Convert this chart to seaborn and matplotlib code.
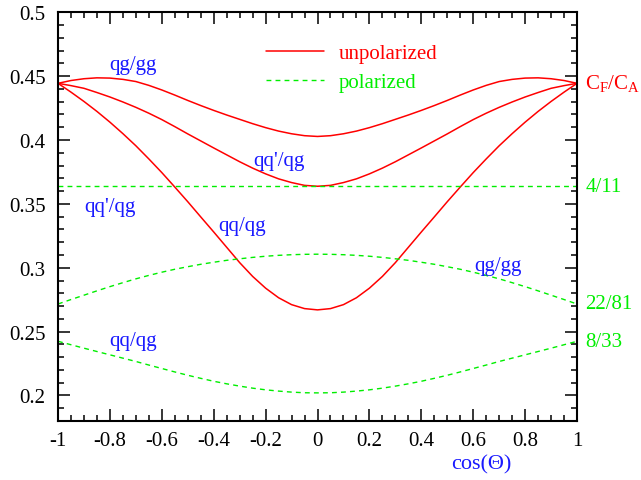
import matplotlib
matplotlib.use("Agg")
import matplotlib.pyplot as plt
import matplotlib.transforms as mtransforms
from matplotlib.lines import Line2D
from matplotlib.ticker import MultipleLocator
import seaborn as sns
import pandas as pd

# cos(Theta) grid
cos_theta = [-1.00, -0.95, -0.90, -0.85, -0.80, -0.75, -0.70, -0.65, -0.60, -0.55, -0.50,
             -0.45, -0.40, -0.35, -0.30, -0.25, -0.20, -0.15, -0.10, -0.05, 0.00,
             0.05, 0.10, 0.15, 0.20, 0.25, 0.30, 0.35, 0.40, 0.45, 0.50,
             0.55, 0.60, 0.65, 0.70, 0.75, 0.80, 0.85, 0.90, 0.95, 1.00]

# unpolarized ratios
unpol_qg_gg = [0.4444, 0.4466, 0.4480, 0.4487, 0.4485, 0.4475, 0.4458, 0.4428, 0.4392, 0.4352, 0.4310,
               0.4270, 0.4232, 0.4196, 0.4162, 0.4128, 0.4097, 0.4070, 0.4049, 0.4034, 0.4028,
               0.4034, 0.4049, 0.4070, 0.4097, 0.4128, 0.4162, 0.4196, 0.4232, 0.4270, 0.4310,
               0.4352, 0.4392, 0.4428, 0.4458, 0.4475, 0.4485, 0.4487, 0.4480, 0.4466, 0.4444]
unpol_qqp_qg = [0.4444, 0.4426, 0.4405, 0.4372, 0.4337, 0.4298, 0.4256, 0.4210, 0.4160, 0.4105, 0.4048,
                0.3993, 0.3938, 0.3884, 0.3830, 0.3780, 0.3735, 0.3696, 0.3667, 0.3645, 0.3638,
                0.3645, 0.3667, 0.3696, 0.3735, 0.3780, 0.3830, 0.3884, 0.3938, 0.3993, 0.4048,
                0.4105, 0.4160, 0.4210, 0.4256, 0.4298, 0.4337, 0.4372, 0.4405, 0.4426, 0.4444]
unpol_qq_qg = [0.4444, 0.4375, 0.4302, 0.4224, 0.4140, 0.4050, 0.3955, 0.3852, 0.3745, 0.3632, 0.3517,
               0.3398, 0.3280, 0.3160, 0.3040, 0.2932, 0.2840, 0.2765, 0.2711, 0.2680, 0.2670,
               0.2680, 0.2711, 0.2765, 0.2840, 0.2932, 0.3040, 0.3160, 0.3280, 0.3398, 0.3517,
               0.3632, 0.3745, 0.3852, 0.3955, 0.4050, 0.4140, 0.4224, 0.4302, 0.4375, 0.4444]

# polarized ratios
pol_qqp_qg = [4 / 11] * 41
pol_qg_gg = [0.2716, 0.2751, 0.2785, 0.2819, 0.2852, 0.2883, 0.2913, 0.2940, 0.2965, 0.2988, 0.3008,
             0.3027, 0.3043, 0.3058, 0.3070, 0.3081, 0.3090, 0.3097, 0.3102, 0.3105, 0.3106,
             0.3105, 0.3102, 0.3097, 0.3090, 0.3081, 0.3070, 0.3058, 0.3043, 0.3027, 0.3008,
             0.2988, 0.2965, 0.2940, 0.2913, 0.2883, 0.2852, 0.2819, 0.2785, 0.2751, 0.2716]
pol_qq_qg = [0.2424, 0.2397, 0.2370, 0.2344, 0.2318, 0.2292, 0.2266, 0.2238, 0.2211, 0.2184, 0.2158,
             0.2134, 0.2111, 0.2091, 0.2073, 0.2057, 0.2044, 0.2034, 0.2026, 0.2021, 0.2020,
             0.2021, 0.2026, 0.2034, 0.2044, 0.2057, 0.2073, 0.2091, 0.2111, 0.2134, 0.2158,
             0.2184, 0.2211, 0.2238, 0.2266, 0.2292, 0.2318, 0.2344, 0.2370, 0.2397, 0.2424]

# right-hand limit labels
limit_labels = [r"C$_{\mathregular{F}}$/C$_{\mathregular{A}}$", "4/11", "22/81", "8/33"]
limit_values = [4 / 9, 4 / 11, 22 / 81, 8 / 33]
limit_colors = ["#ff0000", "#00ee00", "#00ee00", "#00ee00"]

# curve labels
curve_labels = ["qg/gg", "qq'/qg", "qq'/qg", "qq/qg", "qg/gg", "qq/qg"]
curve_label_x = [-0.711, -0.150, -0.801, -0.289, 0.694, -0.710]
curve_label_y = [0.4595, 0.3838, 0.3480, 0.3329, 0.3021, 0.2428]

x_ticks = [-1, -0.8, -0.6, -0.4, -0.2, 0, 0.2, 0.4, 0.6, 0.8, 1]
x_tick_labels = ["-1", "-0.8", "-0.6", "-0.4", "-0.2", "0", "0.2", "0.4", "0.6", "0.8", "1"]
y_ticks = [0.2, 0.25, 0.3, 0.35, 0.4, 0.45, 0.5]
y_tick_labels = ["0.2", "0.25", "0.3", "0.35", "0.4", "0.45", "0.5"]

sns.set_style("ticks")
plt.rcParams["font.family"] = ["Liberation Serif", "DejaVu Serif"]
plt.rcParams["axes.unicode_minus"] = False

RED = "#ff0000"
GREEN = "#00ee00"
BLUE = "#1a1aff"
FS = 15

fig = plt.figure(figsize=(6.41, 4.81), dpi=100)
ax = fig.add_axes([0.0905, 0.1227, 0.8097, 0.8496])

unpol = [unpol_qg_gg, unpol_qqp_qg, unpol_qq_qg]
pol = [pol_qqp_qg, pol_qg_gg, pol_qq_qg]

for series in unpol:
    df = pd.DataFrame({"c": cos_theta, "r": series})
    sns.lineplot(data=df, x="c", y="r", color=RED, linewidth=1.1, ax=ax)
for series in pol:
    df = pd.DataFrame({"c": cos_theta, "r": series})
    sns.lineplot(data=df, x="c", y="r", color=GREEN, linewidth=1.0, ax=ax)
    ax.lines[-1].set_dashes((3.5, 3.0))

ax.set_xlim(-1, 1)
ax.set_ylim(0.18, 0.5)
ax.set_xticks(x_ticks)
ax.set_xticklabels(x_tick_labels)
ax.set_yticks(y_ticks)
ax.set_yticklabels(y_tick_labels)
ax.xaxis.set_minor_locator(MultipleLocator(0.05))
ax.yaxis.set_minor_locator(MultipleLocator(0.01))
ax.tick_params(which="both", direction="in", top=True, right=True, colors="black",
               labelsize=FS, width=1.1)
ax.tick_params(which="major", length=8.5)
ax.tick_params(which="minor", length=4.3)
ax.tick_params(axis="y", pad=9)
ax.tick_params(axis="x", pad=7)
for sp in ax.spines.values():
    sp.set_linewidth(1.5)
    sp.set_color("black")

ax.set_ylabel("")
ax.set_xlabel("cos(Θ)", color=BLUE, fontsize=FS + 1, x=0.815, labelpad=3)

for t, xv, yv in zip(curve_labels, curve_label_x, curve_label_y):
    ax.text(xv, yv, t, color=BLUE, fontsize=FS, ha="center", va="center")

trans = mtransforms.blended_transform_factory(ax.transAxes, ax.transData)
for t, v, c in zip(limit_labels, limit_values, limit_colors):
    ax.text(1.016, v, t, color=c, fontsize=FS, ha="left", va="center", transform=trans)

handles = [Line2D([], [], color=RED, linewidth=1.1),
           Line2D([], [], color=GREEN, linewidth=1.0, dashes=(3.5, 3.0))]
ax.legend(handles, ["unpolarized", "polarized"], loc="upper left",
          bbox_to_anchor=(0.364, 0.97), frameon=False, fontsize=FS,
          handlelength=2.8, handletextpad=0.7, labelspacing=0.45,
          labelcolor=[RED, GREEN])

fig.savefig("out.png", dpi=100)
